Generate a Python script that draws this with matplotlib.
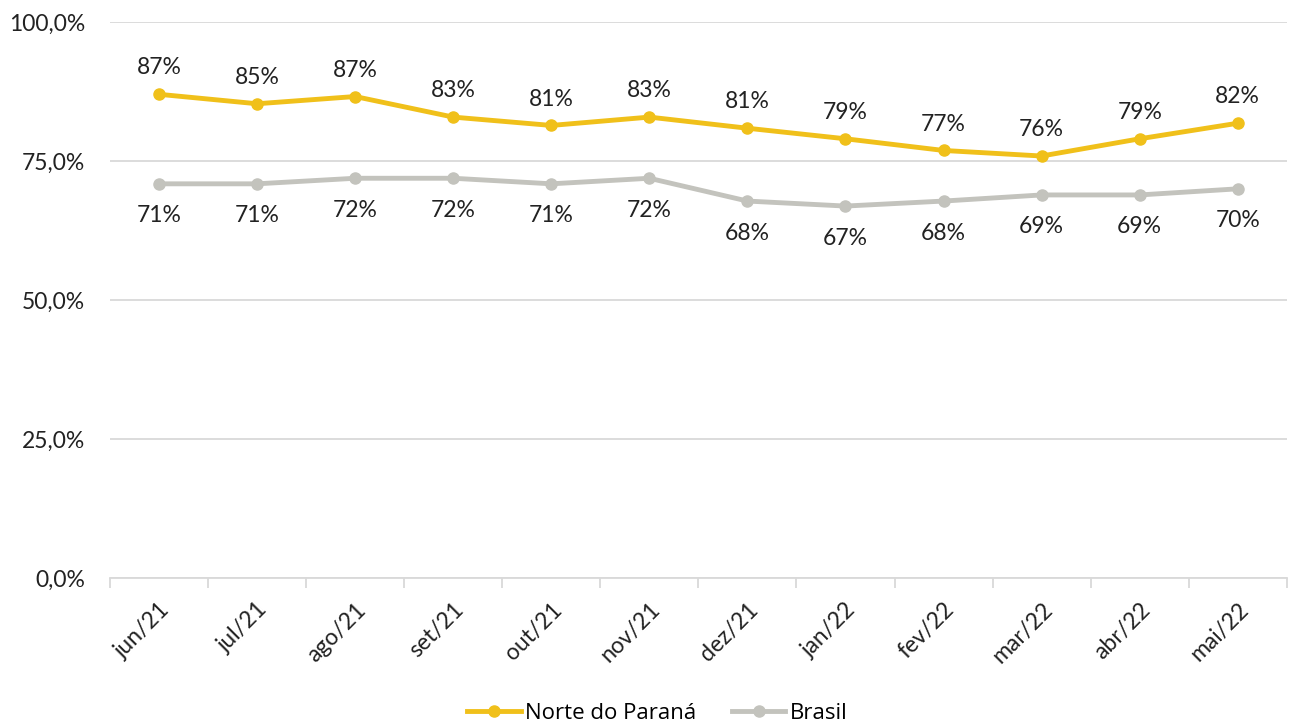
import matplotlib.pyplot as plt
from matplotlib.ticker import FuncFormatter, FixedLocator

months = ['jun/21', 'jul/21', 'ago/21', 'set/21', 'out/21', 'nov/21',
          'dez/21', 'jan/22', 'fev/22', 'mar/22', 'abr/22', 'mai/22']
norte = [0.870, 0.853, 0.866, 0.829, 0.814, 0.829, 0.809, 0.790, 0.769, 0.759, 0.790, 0.818]
norte_labels = ['87%', '85%', '87%', '83%', '81%', '83%', '81%', '79%', '77%', '76%', '79%', '82%']
brasil = [0.709, 0.709, 0.719, 0.719, 0.709, 0.719, 0.678, 0.669, 0.678, 0.689, 0.689, 0.700]
brasil_labels = ['71%', '71%', '72%', '72%', '71%', '72%', '68%', '67%', '68%', '69%', '69%', '70%']

plt.rcParams['font.family'] = ['Lato', 'DejaVu Sans']

fig = plt.figure(figsize=(12.89, 7.22), dpi=100)
ax = fig.add_axes([0.0853, 0.1994, 0.913, 0.7701])

yellow = '#F0C01A'
gray = '#C3C3BD'
x = list(range(len(months)))

ax.plot(x, norte, color=yellow, lw=3.5, marker='o', ms=8, label='Norte do Paraná', zorder=3)
ax.plot(x, brasil, color=gray, lw=3.5, marker='o', ms=8, label='Brasil', zorder=3)

for i in x:
    ax.annotate(norte_labels[i], (i, norte[i]), xytext=(0, 19), textcoords='offset points',
                ha='center', va='center', fontsize=16.5, color='#222222')
    ax.annotate(brasil_labels[i], (i, brasil[i]), xytext=(0, -23), textcoords='offset points',
                ha='center', va='center', fontsize=16.5, color='#222222')

ax.set_xlim(-0.5, 11.5)
ax.set_ylim(0, 1.0)
ax.set_yticks([0, 0.25, 0.5, 0.75, 1.0])
ax.yaxis.set_major_formatter(FuncFormatter(lambda v, p: f'{v*100:.1f}%'.replace('.', ',')))
ax.grid(axis='y', color='#D9D9D9', lw=1.3)
ax.set_axisbelow(True)

ax.set_xticks(x)
ax.set_xticklabels(months, rotation=45, ha='right', rotation_mode='anchor')
ax.xaxis.set_minor_locator(FixedLocator([i - 0.5 for i in range(13)]))
ax.tick_params(axis='x', which='major', length=0, pad=15, labelsize=16.5, colors='#222222')
ax.tick_params(axis='x', which='minor', length=7, width=1.3, color='#D9D9D9')
ax.tick_params(axis='y', length=0, pad=18, labelsize=16.5, colors='#222222')

for s in ['top', 'right', 'left']:
    ax.spines[s].set_visible(False)
ax.spines['bottom'].set_color('#D9D9D9')
ax.spines['bottom'].set_linewidth(1.3)

fig.legend(loc='lower center', bbox_to_anchor=(0.51, -0.03), ncol=2, frameon=False,
           prop={'family': ['Open Sans', 'DejaVu Sans'], 'size': 16},
           handlelength=2.4, columnspacing=1.6, handletextpad=0.2)

fig.savefig('out.png', dpi=100)
